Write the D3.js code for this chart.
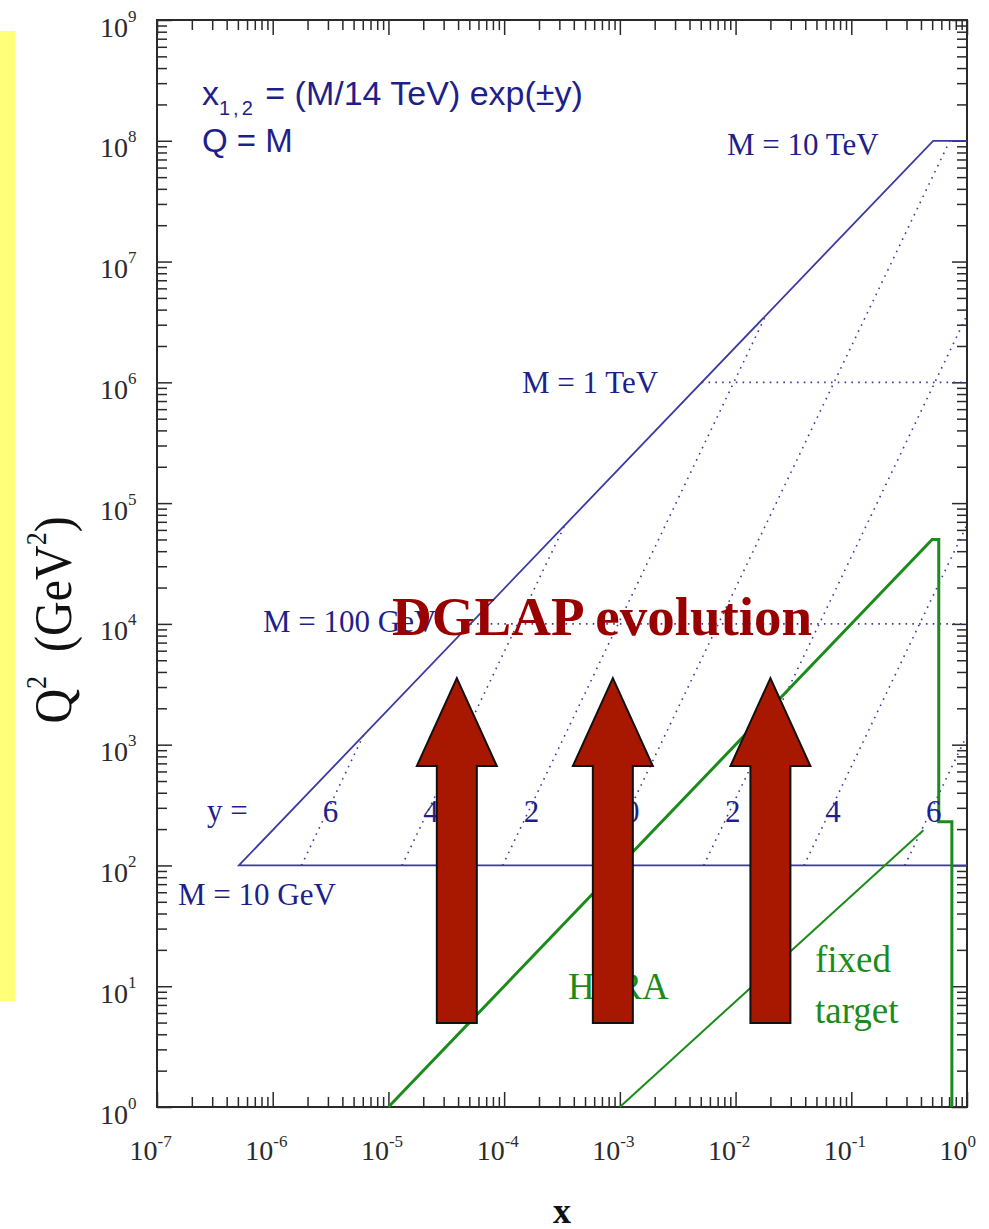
<!DOCTYPE html>
<html>
<head>
<meta charset="utf-8">
<script src="https://cdn.jsdelivr.net/npm/d3@7"></script>
<style>
  html, body { margin: 0; padding: 0; background: #ffffff; }
  svg { display: block; }
</style>
</head>
<body>
<svg id="chart" width="989" height="1229"></svg>
<script>
// ---- data -------------------------------------------------------------
// decade exponents on each axis
const xExponents = [-7, -6, -5, -4, -3, -2, -1, 0];
const q2Exponents = [0, 1, 2, 3, 4, 5, 6, 7, 8, 9];

// lines of constant mass M (Q^2 = M^2), starting at the kinematic limit
const massNames = ["M = 10 GeV", "M = 100 GeV", "M = 1 TeV", "M = 10 TeV"];
const massQ2 = [1e2, 1e4, 1e6, 1e8];
const massXStart = [5.1e-7, 5.1e-5, 5.1e-3, 0.51];

// lines of constant rapidity y, from M = 10 GeV up to the edge of the region
const rapidity = [6, 4, 2, 0, -2, -4, -6];
const rapidityText = ["6", "4", "2", "0", "2", "4", "6"];
const rapXStart = [1.77e-6, 1.31e-5, 9.7e-5, 7.1e-4, 5.3e-3, 3.9e-2, 0.29];
const rapQ2Start = [1e2, 1e2, 1e2, 1e2, 1e2, 1e2, 1e2];
const rapXEnd = [6.1e-6, 3.35e-4, 1.83e-2, 0.71, 1, 1, 1];
const rapQ2End = [1.2e3, 6.6e4, 3.6e6, 1e8, 3.6e6, 6.6e4, 1.2e3];

// LHC accessible region boundary (solid)
const lhcX = [1, 5.1e-7, 0.51, 1];
const lhcQ2 = [1e2, 1e2, 1e8, 1e8];

// HERA region boundary
const heraX = [1e-5, 0.5, 0.57, 0.57, 0.74, 0.74];
const heraQ2 = [1, 5e4, 5e4, 230, 230, 1];

// fixed target region boundary
const fixedX = [1e-3, 0.42];
const fixedQ2 = [1, 196];

// DGLAP evolution arrows: x position, tail and tip in Q^2
const arrowX = [3.9e-5, 8.7e-4, 2.0e-2];
const arrowTailQ2 = 4.96;
const arrowTipQ2 = 3.56e3;

// ---- layout -----------------------------------------------------------
const svg = d3.select("#chart");
const L = 157, R = 967, T = 20, B = 1107;
const x = d3.scaleLog().domain([1e-7, 1]).range([L, R]);
const y = d3.scaleLog().domain([1, 1e9]).range([B, T]);

const SERIF = "'Liberation Serif', 'Times New Roman', serif";
const SANS = "'Liberation Sans', Arial, Helvetica, sans-serif";
const BLUE_LINE = "#3b3ba2";
const BLUE_TEXT = "#1f1f8c";
const GREEN = "#1b8c1b";
const AXIS = "#2a2a2a";

// highlight strip on the left
svg.append("rect")
  .attr("x", 0).attr("y", 31).attr("width", 15).attr("height", 970)
  .attr("fill", "#ffff78");

// ---- axes -------------------------------------------------------------
const isDecade = v => Math.abs(Math.log10(v) - Math.round(Math.log10(v))) < 1e-9;
const xMajor = xExponents.map(e => Math.pow(10, e));
const yMajor = q2Exponents.map(e => Math.pow(10, e));
const xMinor = x.ticks().filter(v => !isDecade(v));
const yMinor = y.ticks().filter(v => !isDecade(v));

function styleTicks(g) {
  g.select(".domain").remove();
  g.selectAll(".tick line").attr("stroke", AXIS).attr("stroke-width", 1.5);
}

function addAxis(axisFn, scale, transform, minor, major) {
  const gMinor = svg.append("g").attr("transform", transform)
    .call(axisFn(scale).tickValues(minor).tickSize(-10).tickFormat(""));
  styleTicks(gMinor);
  gMinor.selectAll(".tick text").remove();
  const gMajor = svg.append("g").attr("transform", transform)
    .call(axisFn(scale).tickValues(major).tickSize(-15).tickFormat(""));
  styleTicks(gMajor);
  return gMajor;
}

const gBottom = addAxis(d3.axisBottom, x, `translate(0,${B})`, xMinor, xMajor);
const gTop = addAxis(d3.axisTop, x, `translate(0,${T})`, xMinor, xMajor);
const gLeft = addAxis(d3.axisLeft, y, `translate(${L},0)`, yMinor, yMajor);
const gRight = addAxis(d3.axisRight, y, `translate(${R},0)`, yMinor, yMajor);
gTop.selectAll(".tick text").remove();
gRight.selectAll(".tick text").remove();

// powers-of-ten tick labels
gBottom.attr("font-family", SERIF).attr("font-size", 28);
gBottom.selectAll(".tick text").each(function(d, i) {
  const t = d3.select(this)
    .attr("fill", AXIS).attr("text-anchor", "start")
    .attr("x", -28).attr("y", 53).attr("dy", 0);
  t.append("tspan").text("10");
  t.append("tspan").attr("font-size", 17).attr("dy", -13).text(String(xExponents[i]));
});

gLeft.attr("font-family", SERIF).attr("font-size", 28);
gLeft.selectAll(".tick text").each(function(d, i) {
  const t = d3.select(this)
    .attr("fill", AXIS).attr("text-anchor", "start")
    .attr("x", -57).attr("y", 16).attr("dy", 0);
  t.append("tspan").text("10");
  t.append("tspan").attr("font-size", 17).attr("dy", -15).text(String(q2Exponents[i]));
});

// plot frame
svg.append("rect")
  .attr("x", L).attr("y", T).attr("width", R - L).attr("height", B - T)
  .attr("fill", "none").attr("stroke", AXIS).attr("stroke-width", 2);

// axis titles
svg.append("text")
  .attr("transform", "translate(71,620) scale(1.12,1) rotate(-90)")
  .attr("text-anchor", "middle")
  .attr("font-family", SERIF).attr("font-size", 48).attr("fill", "#111")
  .call(t => {
    t.append("tspan").text("Q");
    t.append("tspan").attr("font-size", 26).attr("dy", -22).text("2");
    t.append("tspan").attr("dy", 22).text("\u00a0\u00a0(GeV");
    t.append("tspan").attr("font-size", 26).attr("dy", -22).text("2");
    t.append("tspan").attr("dy", 22).text(")");
  });

svg.append("text")
  .attr("x", 562).attr("y", 1223).attr("text-anchor", "middle")
  .attr("font-family", SERIF).attr("font-size", 36).attr("font-weight", "bold")
  .attr("fill", "#111").text("x");

// ---- kinematic lines --------------------------------------------------
const line = d3.line().x(d => x(d[0])).y(d => y(d[1]));

// dotted constant-mass lines (intermediate masses)
massQ2.forEach((q, i) => {
  if (i === 0 || i === massQ2.length - 1) return;
  svg.append("path")
    .attr("d", line([[massXStart[i], q], [1, q]]))
    .attr("fill", "none").attr("stroke", BLUE_LINE).attr("stroke-width", 1.6)
    .attr("stroke-dasharray", "1.6,5.2");
});

// dotted constant-rapidity lines
rapidity.forEach((r, i) => {
  svg.append("path")
    .attr("d", line([[rapXStart[i], rapQ2Start[i]], [rapXEnd[i], rapQ2End[i]]]))
    .attr("fill", "none").attr("stroke", BLUE_LINE).attr("stroke-width", 1.6)
    .attr("stroke-dasharray", "1.6,5.2");
});

// solid LHC boundary
svg.append("path")
  .attr("d", line(lhcX.map((v, i) => [v, lhcQ2[i]])))
  .attr("fill", "none").attr("stroke", BLUE_LINE).attr("stroke-width", 1.8);

// HERA and fixed-target boundaries
svg.append("path")
  .attr("d", line(heraX.map((v, i) => [v, heraQ2[i]])))
  .attr("fill", "none").attr("stroke", GREEN).attr("stroke-width", 3)
  .attr("stroke-linejoin", "miter");
svg.append("path")
  .attr("d", line(fixedX.map((v, i) => [v, fixedQ2[i]])))
  .attr("fill", "none").attr("stroke", GREEN).attr("stroke-width", 2);

// ---- annotations ------------------------------------------------------
const massLabelX = [178, 263, 522, 727];
const massLabelDy = [40, 8, 11, 14];
massNames.forEach((name, i) => {
  svg.append("text")
    .attr("x", massLabelX[i]).attr("y", y(massQ2[i]) + massLabelDy[i])
    .attr("font-family", SERIF).attr("font-size", 31).attr("fill", BLUE_TEXT)
    .text(name);
});

svg.append("text")
  .attr("x", 207).attr("y", y(1e2) - 44)
  .attr("font-family", SERIF).attr("font-size", 31).attr("fill", BLUE_TEXT)
  .text("y =");
rapidityText.forEach((s, i) => {
  svg.append("text")
    .attr("x", x(rapXStart[i]) + 29).attr("y", y(1e2) - 43)
    .attr("text-anchor", "middle")
    .attr("font-family", SERIF).attr("font-size", 31).attr("fill", BLUE_TEXT)
    .text(s);
});

svg.append("text")
  .attr("x", 202).attr("y", 105)
  .attr("font-family", SANS).attr("font-size", 34).attr("fill", BLUE_TEXT)
  .call(t => {
    t.append("tspan").text("x");
    t.append("tspan").attr("font-size", 20).attr("dy", 10).attr("letter-spacing", 3).text("1,2");
    t.append("tspan").attr("dy", -10).text(" = (M/14 TeV) exp(\u00b1y)");
  });
svg.append("text")
  .attr("x", 202).attr("y", 152)
  .attr("font-family", SANS).attr("font-size", 33).attr("fill", BLUE_TEXT)
  .text("Q = M");

svg.append("text")
  .attr("x", 568).attr("y", 999)
  .attr("font-family", SERIF).attr("font-size", 37).attr("fill", GREEN)
  .text("HERA");
svg.append("text")
  .attr("x", 815).attr("y", 972)
  .attr("font-family", SERIF).attr("font-size", 37).attr("fill", GREEN)
  .text("fixed");
svg.append("text")
  .attr("x", 815).attr("y", 1023)
  .attr("font-family", SERIF).attr("font-size", 37).attr("fill", GREEN)
  .text("target");

// DGLAP evolution arrows
const headLen = 88, headHalf = 40, shaftHalf = 20;
arrowX.forEach(ax => {
  const cx = x(ax), tip = y(arrowTipQ2), tail = y(arrowTailQ2), base = tip + headLen;
  const pts = [
    [cx, tip], [cx + headHalf, base], [cx + shaftHalf, base], [cx + shaftHalf, tail],
    [cx - shaftHalf, tail], [cx - shaftHalf, base], [cx - headHalf, base]
  ];
  svg.append("path")
    .attr("d", "M" + pts.map(p => p.join(",")).join("L") + "Z")
    .attr("fill", "#a81700").attr("stroke", "#111").attr("stroke-width", 2)
    .attr("stroke-linejoin", "miter");
});

svg.append("text")
  .attr("x", 392).attr("y", 635)
  .attr("font-family", SERIF).attr("font-size", 55).attr("font-weight", "bold")
  .attr("fill", "#990000")
  .text("DGLAP evolution");
</script>
</body>
</html>
